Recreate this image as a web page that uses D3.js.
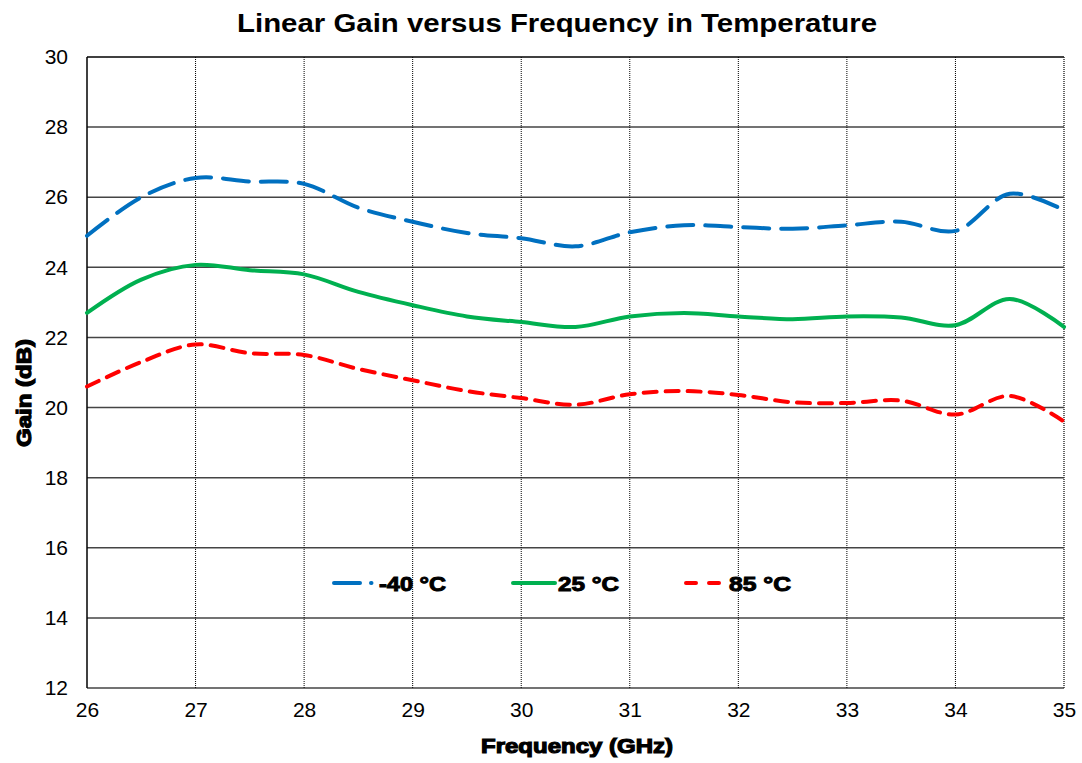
<!DOCTYPE html>
<html>
<head>
<meta charset="utf-8">
<script src="https://cdn.jsdelivr.net/npm/d3@7/dist/d3.min.js"></script>
<style>
html,body{margin:0;padding:0;background:#fff;}
svg{display:block;}
</style>
</head>
<body>
<svg id="chart" width="1082" height="763"></svg>
<script>
const freq = [26,26.5,27,27.5,28,28.5,29,29.5,30,30.5,31,31.5,32,32.5,33,33.5,34,34.5,35];
const gainM40 = [24.9,26.0,26.55,26.45,26.38,25.7,25.3,24.98,24.83,24.6,25.0,25.2,25.15,25.1,25.2,25.3,25.04,26.1,25.63];
const gain25  = [22.7,23.65,24.07,23.92,23.8,23.3,22.92,22.6,22.44,22.3,22.6,22.7,22.6,22.52,22.6,22.57,22.35,23.1,22.3];
const gain85  = [20.6,21.3,21.8,21.55,21.5,21.1,20.78,20.47,20.27,20.08,20.38,20.47,20.36,20.15,20.13,20.2,19.8,20.33,19.6];
const xTicks = [26,27,28,29,30,31,32,33,34,35];
const yTicks = [12,14,16,18,20,22,24,26,28,30];
const seriesNames = ["-40 °C","25 °C","85 °C"];

const series = [
  {name: seriesNames[0], values: gainM40, color: "#0070C0", dash: "26,12"},
  {name: seriesNames[1], values: gain25,  color: "#00B050", dash: null},
  {name: seriesNames[2], values: gain85,  color: "#FF0000", dash: "13,9"}
];

const svg = d3.select("#chart");
const L = 87, R = 1064, T = 57, B = 688;
const x = d3.scaleLinear().domain([26,35]).range([L,R]);
const y = d3.scaleLinear().domain([12,30]).range([B,T]);
const font = "'Liberation Sans', Arial, sans-serif";

// horizontal gridlines
svg.append("g").selectAll("line").data(yTicks).join("line")
  .attr("x1", L).attr("x2", R)
  .attr("y1", d => y(d)).attr("y2", d => y(d))
  .attr("stroke", d => d === 30 ? "#000" : "#444").attr("stroke-width", 1.5);

// vertical dotted gridlines
svg.append("g").selectAll("line").data(xTicks.filter(d => d > 26)).join("line")
  .attr("x1", d => x(d)).attr("x2", d => x(d))
  .attr("y1", T).attr("y2", B)
  .attr("stroke", d => d === 35 ? "#333" : "#000")
  .attr("stroke-width", d => d === 35 ? 1.5 : 1)
  .attr("stroke-dasharray", "1,1");

// left axis line
svg.append("line").attr("x1", L).attr("x2", L).attr("y1", T).attr("y2", B)
  .attr("stroke", "#000").attr("stroke-width", 1.5);

// tick labels via axes
const yAxis = svg.append("g").attr("transform", `translate(${L},0)`)
  .call(d3.axisLeft(y).tickValues(yTicks).tickSize(0).tickPadding(19));
yAxis.select(".domain").remove();
yAxis.selectAll("text").attr("font-family", font).attr("font-size", 21).attr("fill", "#000");

const xAxis = svg.append("g").attr("transform", `translate(0,${B})`)
  .call(d3.axisBottom(x).tickValues(xTicks).tickSize(0).tickPadding(14));
xAxis.select(".domain").remove();
xAxis.selectAll("text").attr("font-family", font).attr("font-size", 21).attr("fill", "#000");

// lines
const line = d3.line().x((d,i) => x(freq[i])).y(d => y(d)).curve(d3.curveCatmullRom.alpha(0.5));
svg.append("g").selectAll("path").data(series).join("path")
  .attr("d", d => line(d.values))
  .attr("fill", "none")
  .attr("stroke", d => d.color)
  .attr("stroke-width", 4)
  .attr("stroke-dasharray", d => d.dash)
  .attr("stroke-linecap", "round");

// title
svg.append("text").attr("x", 557).attr("y", 32).attr("text-anchor", "middle")
  .attr("font-family", font).attr("font-weight", "bold").attr("font-size", 26)
  .attr("textLength", 640).attr("lengthAdjust", "spacingAndGlyphs")
  .text("Linear Gain versus Frequency in Temperature");

// axis titles
svg.append("text").attr("x", 577).attr("y", 753).attr("text-anchor", "middle")
  .attr("font-family", font).attr("font-weight", "bold").attr("font-size", 21)
  .attr("stroke", "#000").attr("stroke-width", 1.2)
  .attr("textLength", 192).attr("lengthAdjust", "spacingAndGlyphs")
  .text("Frequency (GHz)");
svg.append("text").attr("transform", "translate(31,393) rotate(-90)").attr("text-anchor", "middle")
  .attr("font-family", font).attr("font-weight", "bold").attr("font-size", 20)
  .attr("stroke", "#000").attr("stroke-width", 1.2)
  .attr("textLength", 108).attr("lengthAdjust", "spacingAndGlyphs")
  .text("Gain  (dB)");

// legend
const legendItems = [
  {s: series[0], x1: 334, x2: 374, tx: 379, tw: 67},
  {s: series[1], x1: 513, x2: 555, tx: 558, tw: 61},
  {s: series[2], x1: 686, x2: 722, tx: 729, tw: 62}
];
const lg = svg.append("g");
legendItems.forEach(it => {
  lg.append("line").attr("x1", it.x1).attr("x2", it.x2).attr("y1", 583).attr("y2", 583)
    .attr("stroke", it.s.color).attr("stroke-width", 4)
    .attr("stroke-linecap", "round")
    .attr("stroke-dasharray", it.s.name === seriesNames[0] ? "26,11,0.5,40" : (it.s.dash ? "10,13" : null));
  lg.append("text").attr("x", it.tx).attr("y", 591)
    .attr("font-family", font).attr("font-weight", "bold").attr("font-size", 21)
    .attr("stroke", "#000").attr("stroke-width", 1)
    .attr("textLength", it.tw).attr("lengthAdjust", "spacingAndGlyphs")
    .text(it.s.name);
});
</script>
</body>
</html>
